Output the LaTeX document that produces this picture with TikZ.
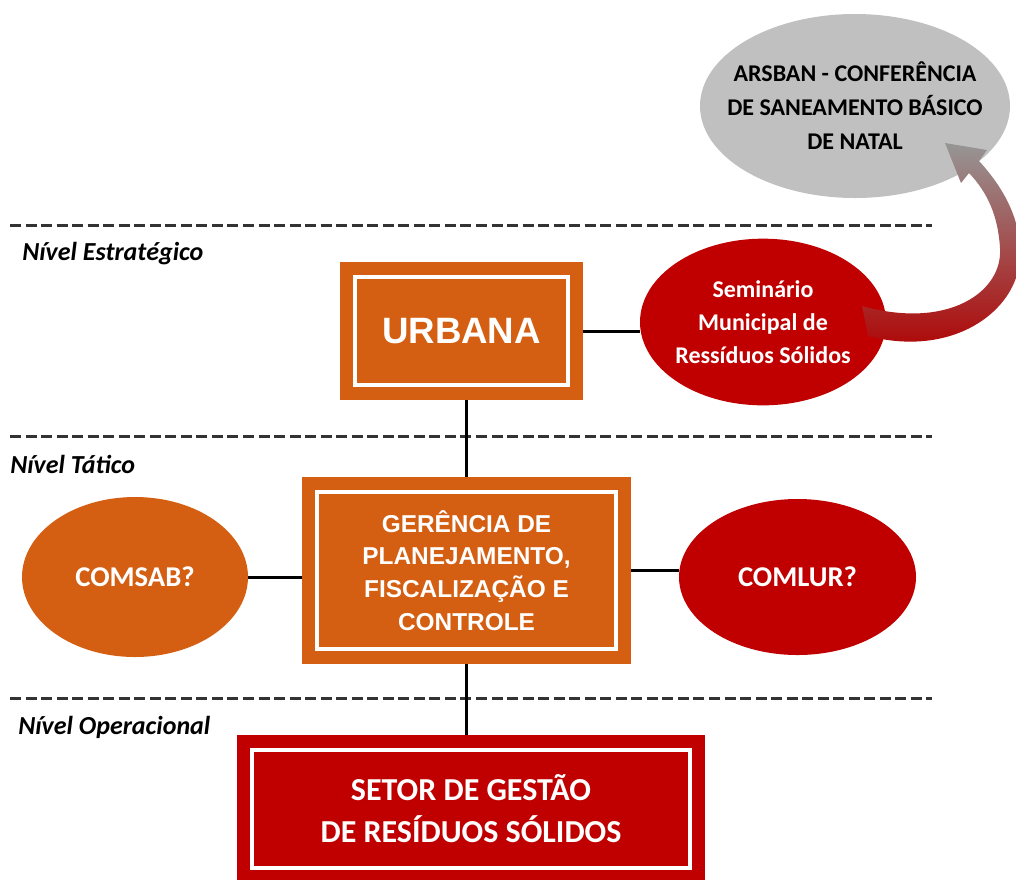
\documentclass[tikz,border=0pt]{standalone}
\usepackage{fontspec}
\setmainfont{Carlito}
\newfontfamily\arialfont{Liberation Sans}
\usetikzlibrary{positioning,shapes.geometric}
\definecolor{urbOrange}{HTML}{D45F13}
\definecolor{urbRed}{HTML}{C00000}
\definecolor{arsGray}{HTML}{C0C0C0}
\definecolor{tierGray}{HTML}{333333}

\begin{document}
\begin{tikzpicture}[x=0.75pt,y=-0.75pt,
  orgbox/.style={fill=#1,inner sep=0pt,text=white,align=center,
    path picture={\draw[white,line width=3pt]
      ([xshift=11pt,yshift=-11pt]path picture bounding box.north west) rectangle
      ([xshift=-11pt,yshift=11pt]path picture bounding box.south east);}},
  oval/.style={ellipse,fill=#1,inner xsep=-30pt,inner ysep=0pt,align=center,text=white},
  tier/.style={tierGray,line width=2.25pt,dash pattern=on 8.25pt off 3.4pt},
  lbl/.style={anchor=base west,inner sep=0pt,font=\fontsize{19.5}{22}\selectfont\bfseries\itshape},
  conn/.style={line width=2.25pt}]
  \useasboundingbox (0,0) rectangle (1016,879);
  \clip (0,0) rectangle (1016,879);

  % niveis
  \draw[tier] (10,225) -- (932,225);
  \draw[tier] (10,436) -- (932,436);
  \draw[tier] (10,698) -- (932,698);
  \node[lbl] (nest) at (22,260) {Nível Estratégico};
  \node[lbl] (ntat) at (10,473) {Nível Tático};
  \node[lbl] (nope) at (18,734) {Nível Operacional};

  \node[orgbox=urbOrange,minimum width=182.25pt,minimum height=103.5pt,
    font=\arialfont\fontsize{27.5}{30}\selectfont\bfseries] (urb) at (461.5,331) {URBANA};
  \node[oval=urbRed,minimum width=184.5pt,minimum height=125pt,
    font=\fontsize{18}{24.75}\selectfont\bfseries] (sem) at (763,322)
    {Seminário\\Municipal de\\Ressíduos Sólidos};
  \node[oval=arsGray,minimum width=232.5pt,minimum height=138pt,text=black,
    font=\fontsize{18}{25.5}\selectfont\bfseries] (ars) at (855,106)
    {ARSBAN - CONFERÊNCIA\\DE SANEAMENTO BÁSICO\\DE NATAL};
  \node[orgbox=urbOrange,minimum width=246.75pt,minimum height=140.25pt,
    font=\arialfont\fontsize{18.3}{24.5}\selectfont\bfseries] (ger) at (466.5,570.5)
    {GERÊNCIA DE\\PLANEJAMENTO,\\FISCALIZAÇÃO E\\CONTROLE};
  \node[oval=urbOrange,minimum width=169.5pt,minimum height=120pt,
    font=\fontsize{21.5}{24}\selectfont\bfseries] (csb) at (135,577) {COMSAB?};
  \node[oval=urbRed,minimum width=177.75pt,minimum height=117pt,
    font=\fontsize{21.5}{24}\selectfont\bfseries] (clr) at (797.5,577) {COMLUR?};
  \node[orgbox=urbRed,minimum width=351pt,minimum height=111pt,
    font=\fontsize{24}{31.5}\selectfont\bfseries] (set) at (471,809)
    {SETOR DE GESTÃO\\DE RESÍDUOS SÓLIDOS};

  \draw[conn] (urb.east) -- (urb.east -| sem.west);
  \draw[conn] (ger.north) -- (ger.north |- urb.south);
  \draw[conn] (csb.east) -- (csb.east -| ger.west);
  \draw[conn] (ger.east) -- (ger.east -| clr.west);
  \draw[conn] (ger.south) -- (ger.south |- set.north);

  % seta curva do seminario para a ARSBAN
  \shade[top color={rgb,255:red,150;green,150;blue,150},
    middle color={rgb,255:red,185;green,155;blue,155},
    bottom color={rgb,255:red,176;green,0;blue,0}]
    (862,306) .. controls (948,330) and (1003,292) .. (1000,248)
    .. controls (998,215) and (987,192) .. (969,173) -- (961,183) -- (945,143)
    -- (987,150) -- (979,161) .. controls (1003,187) and (1022,220) .. (1020,258)
    .. controls (1017,312) and (952,358) .. (868,336) -- cycle;
\end{tikzpicture}
\end{document}
